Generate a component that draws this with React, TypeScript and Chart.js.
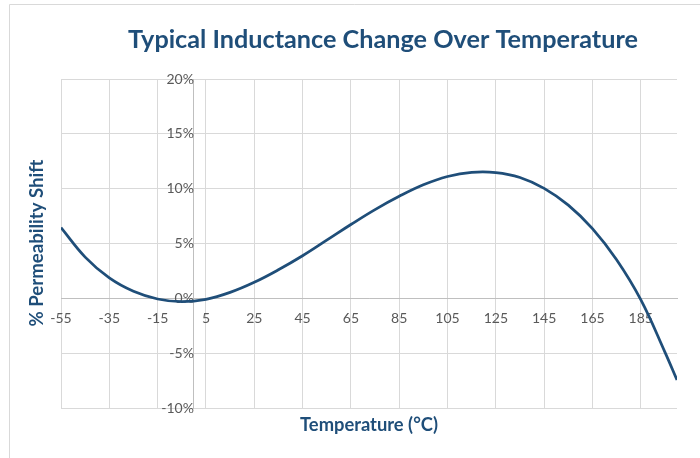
import React, { useEffect, useRef } from "react";
import { Chart, registerables } from "chart.js";

Chart.register(...registerables);

const TITLE = "Typical Inductance Change Over Temperature";
const X_TITLE = "Temperature (°C)";
const Y_TITLE = "% Permeability Shift";

const temperatures = [
  -55, -45, -35, -25, -15, -5, 5, 15, 25, 35, 45, 55, 65, 75, 85, 95, 105, 115, 125, 135, 145, 155, 165,
  175, 185, 195, 200,
];
const permeabilityShift = [
  6.45, 3.76, 1.86, 0.64, -0.06, -0.31, -0.09, 0.54, 1.46, 2.6, 3.88, 5.3, 6.73, 8.09, 9.3, 10.35, 11.11,
  11.49, 11.47, 11.02, 10.03, 8.5, 6.36, 3.52, -0.12, -4.9, -7.45,
];
const xTickValues = [-55, -35, -15, 5, 25, 45, 65, 85, 105, 125, 145, 165, 185];
const yTickValues = [-10, -5, 0, 5, 10, 15, 20];

const BLUE = "#1F4E79";
const GRID = "#d9d9d9";
const AXIS = "#bfbfbf";
const LABEL = "#595959";
const FONT = "Lato, 'Open Sans', sans-serif";

function fitFontSize(ctx: CanvasRenderingContext2D, text: string, weight: string, target: number) {
  ctx.font = `${weight} 20px ${FONT}`;
  const w = ctx.measureText(text).width;
  return (20 * target) / w;
}

const decorPlugin = {
  id: "decor",
  beforeDraw(chart: any) {
    const ctx = chart.ctx as CanvasRenderingContext2D;
    ctx.save();
    ctx.fillStyle = "#ffffff";
    ctx.fillRect(0, 0, chart.width, chart.height);
    ctx.strokeStyle = GRID;
    ctx.lineWidth = 1;
    ctx.beginPath();
    ctx.moveTo(9.5, chart.height);
    ctx.lineTo(9.5, 4.5);
    ctx.lineTo(chart.width, 4.5);
    ctx.stroke();
    ctx.restore();
  },
  afterDraw(chart: any) {
    const ctx = chart.ctx as CanvasRenderingContext2D;
    const area = chart.chartArea;
    ctx.save();
    ctx.fillStyle = BLUE;
    ctx.textAlign = "center";
    ctx.textBaseline = "middle";

    let s = fitFontSize(ctx, TITLE, "bold", 510);
    ctx.font = `bold ${s}px ${FONT}`;
    ctx.fillText(TITLE, 383, 40);

    s = fitFontSize(ctx, X_TITLE, "bold", 138);
    ctx.font = `bold ${s}px ${FONT}`;
    ctx.fillText(X_TITLE, (area.left + area.right) / 2, 425);

    s = fitFontSize(ctx, Y_TITLE, "bold", 167);
    ctx.font = `bold ${s}px ${FONT}`;
    ctx.translate(37, 243);
    ctx.rotate(-Math.PI / 2);
    ctx.fillText(Y_TITLE, 0, 0);
    ctx.restore();
  },
};

export default function App() {
  const ref = useRef<HTMLCanvasElement | null>(null);

  useEffect(() => {
    if (!ref.current) return;
    const chart = new Chart(ref.current, {
      type: "line",
      data: {
        datasets: [
          {
            label: "% Permeability Shift",
            data: temperatures.map((t, i) => ({ x: t, y: permeabilityShift[i] })),
            borderColor: BLUE,
            backgroundColor: BLUE,
            borderWidth: 2.75,
            pointRadius: 0,
            tension: 0.4,
            fill: false,
          },
        ],
      },
      options: {
        animation: false,
        responsive: false,
        devicePixelRatio: 1,
        layout: { padding: { left: 61, top: 79, right: 23, bottom: 50 } },
        plugins: {
          legend: { display: false },
          title: { display: false },
          tooltip: { enabled: false },
        },
        scales: {
          x: {
            type: "linear",
            min: -55,
            max: 200,
            position: { y: 0 } as any,
            afterBuildTicks: (scale: any) => {
              scale.ticks = xTickValues.map((v) => ({ value: v }));
            },
            ticks: {
              color: LABEL,
              font: { family: FONT, size: 14 },
              padding: 12,
              maxRotation: 0,
              autoSkip: false,
              callback: (v: any) => String(v),
            },
            grid: { color: GRID, lineWidth: 1, drawTicks: false },
            border: { display: true, color: AXIS, width: 1 },
          },
          y: {
            type: "linear",
            min: -10,
            max: 20,
            position: { x: 0 } as any,
            afterBuildTicks: (scale: any) => {
              scale.ticks = yTickValues.map((v) => ({ value: v }));
            },
            ticks: {
              color: LABEL,
              font: { family: FONT, size: 14 },
              padding: 16,
              autoSkip: false,
              callback: (v: any) => `${v}%`,
            },
            grid: { color: GRID, lineWidth: 1, drawTicks: false },
            border: { display: true, color: AXIS, width: 1 },
          },
        },
      },
      plugins: [decorPlugin],
    });
    return () => chart.destroy();
  }, []);

  return (
    <div style={{ position: "absolute", left: 0, top: 0, width: 700, height: 458 }}>
      <canvas ref={ref} width={700} height={458} style={{ display: "block" }} />
    </div>
  );
}
